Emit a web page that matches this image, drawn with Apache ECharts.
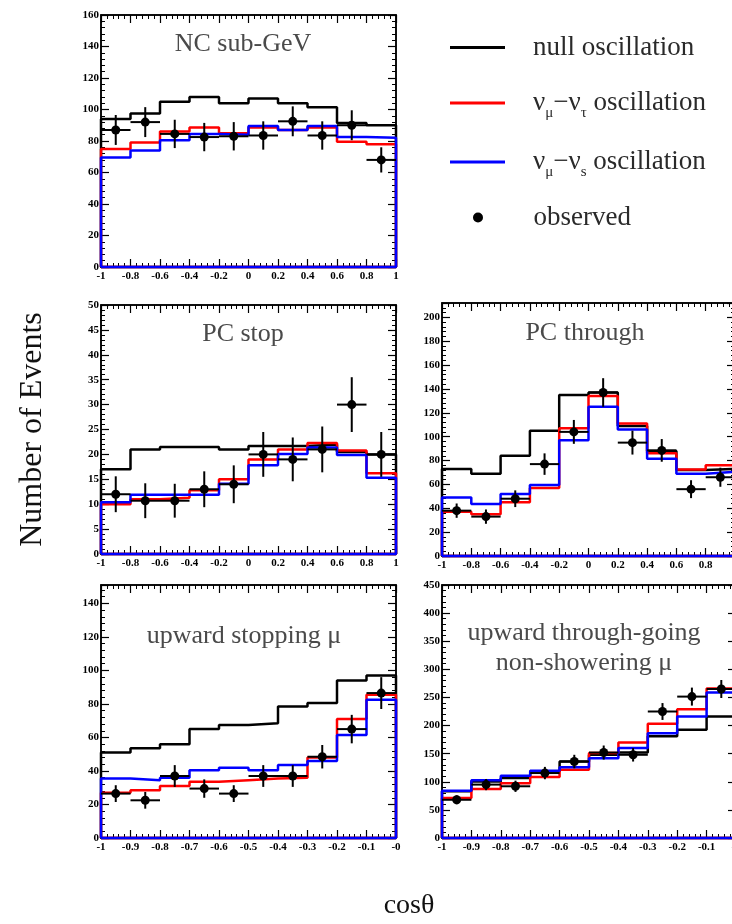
<!DOCTYPE html>
<html><head><meta charset="utf-8">
<script src="https://cdn.jsdelivr.net/npm/echarts@6/dist/echarts.min.js"></script>
<style>html,body{margin:0;padding:0;background:#fff}#c{width:732px;height:924px}</style>
</head><body><div id="c"></div>
<script>
// ---- bin edges ----
const edgesFull = [-1, -0.8, -0.6, -0.4, -0.2, 0, 0.2, 0.4, 0.6, 0.8, 1];
const edgesUp = [-1, -0.9, -0.8, -0.7, -0.6, -0.5, -0.4, -0.3, -0.2, -0.1, 0];

// ---- NC sub-GeV ----
const ncNull = [94, 97.5, 105, 108, 104, 107, 104, 101.5, 91.5, 90];
const ncTau = [75, 79, 86, 88.5, 85, 88.5, 87, 88.5, 79.5, 78];
const ncSterile = [69.5, 74, 80.5, 84.5, 84, 89.5, 87, 89.5, 82.5, 82];
const ncObs = [87, 92, 84.5, 82.5, 83, 83.5, 92.5, 83.5, 90, 68];
const ncErr = [9.5, 9.5, 9, 9, 9, 9, 9.5, 9, 9.5, 8];

// ---- PC stop ----
const pcsNull = [17, 21, 21.5, 21.5, 21, 21.7, 21.7, 22, 20.5, 20];
const pcsTau = [10, 11, 11.3, 12.8, 15, 19, 21, 22.3, 20.8, 16.2];
const pcsSterile = [10.4, 11.9, 11.9, 11.9, 14.1, 17.8, 20.1, 21.4, 19.9, 15.3];
const pcsObs = [12, 10.7, 10.7, 13, 14, 20, 19, 21, 30, 20];
const pcsErr = [3.6, 3.5, 3.4, 3.6, 3.8, 4.5, 4.4, 4.6, 5.5, 4.5];

// ---- PC through ----
const pctNull = [73, 69, 84, 105, 135, 137, 109, 88, 72, 73];
const pctTau = [37, 35, 45, 57, 107, 134, 111, 86, 72.5, 76];
const pctSterile = [49, 43.5, 52, 59.5, 97, 125, 106, 81.5, 69, 70.5];
const pctObs = [38, 33, 48, 77, 104, 137, 95, 88.5, 56, 66];
const pctErr = [6, 6, 7, 9, 10, 12, 10, 9.5, 7.5, 8];

// ---- upward stopping mu ----
const usNull = [51, 53.5, 56, 65, 67.5, 68.5, 78.5, 80.5, 94, 97];
const usTau = [27, 28.5, 31, 33.5, 34.5, 35.5, 36, 48, 71, 85.5];
const usSterile = [35.5, 34.5, 36, 40.5, 42, 40.5, 43.5, 46, 61.5, 82.5];
const usObs = [26.5, 22.5, 37, 29.5, 26.5, 37, 37, 48.5, 65, 86.5];
const usErr = [5, 5, 6.5, 5.5, 5, 6.5, 6.5, 7, 8.5, 9.5];

// ---- upward through-going non-showering mu ----
const utNull = [83, 100.5, 106.5, 118.5, 136, 148, 152, 181, 192.5, 216];
const utTau = [71, 87, 97.5, 108.5, 121.5, 151, 170, 203, 229, 266];
const utSterile = [84, 102.5, 110.5, 119.5, 126, 142, 160, 186.5, 216, 259];
const utObs = [68, 95, 92, 115.5, 136, 152, 148, 225, 251.5, 265];
const utErr = [8, 10, 10, 11, 12, 12.5, 12, 15, 16, 16];

// ---- text ----
const panelTitles = ['NC sub-GeV', 'PC stop', 'PC through', 'upward stopping μ', 'upward through-going\nnon-showering μ'];
const legendNames = ['null oscillation', 'numu-nutau oscillation', 'numu-nus oscillation', 'observed'];
const xAxisTitle = 'cosθ';
const yAxisTitle = 'Number of Events';

const FONT = 'Liberation Serif';

const panels = [
  { box: {left: 101, top: 15, width: 295, height: 252}, x: [-1, 1, 0.2], y: [0, 160, 20], edges: edgesFull,
    series: [ncNull, ncTau, ncSterile], obs: ncObs, err: ncErr, up: false },
  { box: {left: 101, top: 305, width: 295, height: 249}, x: [-1, 1, 0.2], y: [0, 50, 5], edges: edgesFull,
    series: [pcsNull, pcsTau, pcsSterile], obs: pcsObs, err: pcsErr, up: false },
  { box: {left: 442, top: 303, width: 293, height: 253}, x: [-1, 1, 0.2], y: [0, 212, 20], edges: edgesFull,
    series: [pctNull, pctTau, pctSterile], obs: pctObs, err: pctErr, up: false },
  { box: {left: 101, top: 585, width: 295, height: 253}, x: [-1, 0, 0.1], y: [0, 151, 20], edges: edgesUp,
    series: [usNull, usTau, usSterile], obs: usObs, err: usErr, up: true },
  { box: {left: 442, top: 585, width: 294, height: 253}, x: [-1, 0, 0.1], y: [0, 450, 50], edges: edgesUp,
    series: [utNull, utTau, utSterile], obs: utObs, err: utErr, up: true }
];

const lineColors = ['#000000', '#ff0000', '#0000ff'];

function histPoints(edges, vals) {
  const pts = [[edges[0], 0]];
  for (let i = 0; i < vals.length; i++) pts.push([edges[i], vals[i]]);
  pts.push([edges[edges.length - 1], vals[vals.length - 1]]);
  pts.push([edges[edges.length - 1], 0]);
  pts.push([edges[0], 0]);
  return pts;
}
function obsPoints(edges, obs, err) {
  return obs.map((v, i) => [(edges[i] + edges[i + 1]) / 2, v, err[i], (edges[i + 1] - edges[i]) / 2]);
}

const tickLabel = {fontFamily: FONT, fontWeight: 'bold', fontSize: 11, color: '#000'};
const axisLine = {show: true, onZero: false, lineStyle: {color: '#000', width: 1.5}};
const tick = {show: true, inside: true, length: 8, lineStyle: {color: '#000', width: 1.2}};
const minor = {show: true, splitNumber: 5, length: 4, lineStyle: {color: '#000', width: 1}};

const grid = [], xAxis = [], yAxis = [], series = [];
panels.forEach((p, i) => {
  grid.push(Object.assign({show: true, borderColor: '#000', borderWidth: 1.5, backgroundColor: 'transparent', outerBoundsMode: 'none'}, p.box));
  const fmt = p.up ? (v => Math.abs(v) < 1e-9 ? '-0' : String(+v.toFixed(2))) : (v => String(+v.toFixed(2)));
  xAxis.push({type: 'value', gridIndex: i, position: 'bottom', min: p.x[0], max: p.x[1], interval: p.x[2],
    axisLine, axisTick: tick, minorTick: minor, splitLine: {show: false}, minorSplitLine: {show: false},
    axisLabel: Object.assign({margin: 4, formatter: fmt, showMinLabel: true, showMaxLabel: true, hideOverlap: false}, tickLabel)});
  xAxis.push({type: 'value', gridIndex: i, position: 'top', min: p.x[0], max: p.x[1], interval: p.x[2],
    axisLine, axisTick: tick, minorTick: minor, splitLine: {show: false}, axisLabel: {show: false}});
  const yax = {type: 'value', gridIndex: i, position: 'left', min: p.y[0], max: p.y[1], interval: p.y[2],
    axisLine, axisTick: tick, minorTick: minor, splitLine: {show: false}, minorSplitLine: {show: false},
    axisLabel: Object.assign({margin: 2, showMaxLabel: (p.y[1] % p.y[2]) === 0, hideOverlap: false}, tickLabel)};
  if (i === 1) {
    Object.assign(yax, {name: yAxisTitle, nameLocation: 'middle', nameRotate: 90, nameGap: 52,
      nameTextStyle: {fontFamily: FONT, fontSize: 32, color: '#111'}});
  }
  yAxis.push(yax);
  yAxis.push({type: 'value', gridIndex: i, position: 'right', min: p.y[0], max: p.y[1], interval: p.y[2],
    axisLine, axisTick: tick, minorTick: minor, splitLine: {show: false}, axisLabel: {show: false}});
  p.series.forEach((vals, k) => {
    series.push({type: 'line', name: legendNames[k], xAxisIndex: 2 * i, yAxisIndex: 2 * i, step: 'end',
      symbol: 'none', clip: false, silent: true, z: 2 + k * 0.1,
      lineStyle: {color: lineColors[k], width: 2.5}, itemStyle: {color: lineColors[k]},
      data: histPoints(p.edges, vals)});
  });
  series.push({type: 'custom', name: legendNames[3], xAxisIndex: 2 * i, yAxisIndex: 2 * i, z: 5, clip: false,
    itemStyle: {color: '#000'},
    data: obsPoints(p.edges, p.obs, p.err),
    renderItem: function (params, api) {
      const x = api.value(0), y = api.value(1), e = api.value(2), hw = api.value(3);
      const c = api.coord([x, y]);
      const t = api.coord([x, y + e]);
      const b = api.coord([x, y - e]);
      const l = api.coord([x - hw, y]);
      const r = api.coord([x + hw, y]);
      const st = {stroke: '#000', lineWidth: 2};
      return {type: 'group', children: [
        {type: 'line', shape: {x1: l[0], y1: l[1], x2: r[0], y2: r[1]}, style: st},
        {type: 'line', shape: {x1: t[0], y1: t[1], x2: b[0], y2: b[1]}, style: st},
        {type: 'circle', shape: {cx: c[0], cy: c[1], r: 4.5}, style: {fill: '#000'}}
      ]};
    }
  });
});

const legendText = {
  'null oscillation': '{sp|}{a|null oscillation}',
  'numu-nutau oscillation': '{sp|}{a|ν}{s|μ}{a|−ν}{s|τ}{a| oscillation}',
  'numu-nus oscillation': '{sp|}{a|ν}{s|μ}{a|−ν}{s|s}{a| oscillation}',
  'observed': '{sp|}{a|observed}'
};
const rich = {
  sp: {width: 23},
  a: {fontSize: 27, fontFamily: FONT, color: '#2a2a2a', lineHeight: 30, verticalAlign: 'middle'},
  s: {fontSize: 15, fontFamily: FONT, color: '#2a2a2a', lineHeight: 15, padding: [20, 0, 0, 0], verticalAlign: 'middle'}
};
const legendTops = [34, 85.5, 144.5, 204];
const legendLefts = [450, 450, 450, 473];
const lineIcon = 'path://M0,0H55V3H0Z';
const legend = legendNames.map((n, i) => ({
  data: [{name: n, icon: i === 3 ? 'circle' : lineIcon}],
  left: legendLefts[i], top: legendTops[i], padding: 0, itemWidth: 55, itemHeight: i === 3 ? 10 : 10,
  selectedMode: false, symbolKeepAspect: true,
  formatter: nm => legendText[nm], textStyle: {rich}
}));

const titleTS = {fontFamily: FONT, fontWeight: 'normal', fontSize: 26, color: '#4a4a4a', lineHeight: 30};
const titlePos = [[243, 29], [243, 319], [585, 318], [244, 621], [584, 618]];
const title = panelTitles.map((t, i) => ({text: t, left: titlePos[i][0], top: titlePos[i][1], textAlign: 'center', padding: 0, textStyle: titleTS}));
title.push({text: xAxisTitle, left: 409, top: 892, textAlign: 'center', padding: 0,
  textStyle: {fontFamily: FONT, fontWeight: 'normal', fontSize: 28, color: '#111'}});

const chart = echarts.init(document.getElementById('c'), null, {renderer: 'canvas'});
chart.setOption({animation: false, backgroundColor: '#fff', title, legend, grid, xAxis, yAxis, series});
</script></body></html>
